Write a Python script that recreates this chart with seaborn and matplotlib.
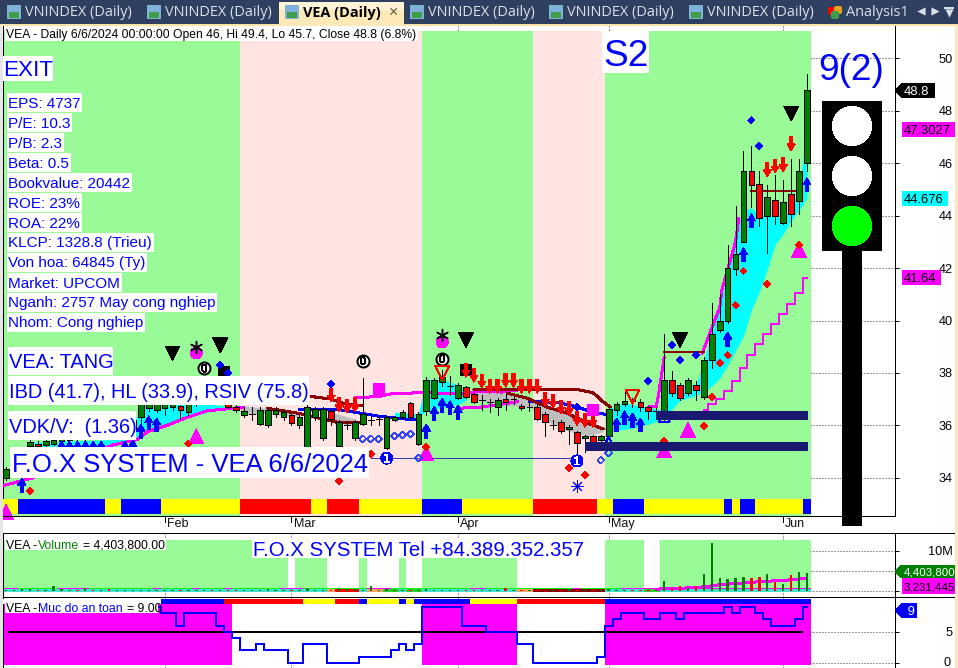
#!/usr/bin/env python3
"""F.O.X SYSTEM daily chart for VEA, redrawn from a screenshot."""
import numpy as np
import matplotlib
matplotlib.use("Agg")
import matplotlib.pyplot as plt
from matplotlib.patches import Rectangle, Circle, Polygon
from matplotlib.path import Path
import seaborn as sns

# ── Data ──────────────────────────────────────────────────────────────────────
opens = [34.0, 34.3, 34.6, 35.2, 35.3, 35.25, 35.3, 35.4, 35.45, 35.55,
         35.5, 35.65, 35.6, 35.7, 35.6, 35.75, 35.85, 36.3, 36.65, 36.6,
         36.65, 36.7, 36.75, 36.5, 36.85, 36.95, 37.0, 36.9, 36.8, 36.7,
         36.4, 36.45, 36.05, 36.0, 36.45, 36.3, 36.4, 36.0, 35.17, 36.3,
         35.5, 36.55, 35.2, 36.0, 35.5, 36.05, 36.2, 36.25, 35.13, 36.2,
         36.3, 36.85, 35.3, 36.55, 37.05, 37.65, 37.5, 37.05, 37.45, 37.2,
         36.95, 36.9, 36.7, 37.0, 37.0, 36.75, 36.7, 36.7, 36.43, 36.0,
         36.13, 35.85, 35.74, 35.5, 35.6, 35.45, 35.6, 36.6, 36.81, 37.0,
         36.89, 36.7, 36.55, 36.3, 37.73, 37.54, 37.23, 37.54, 37.08, 38.5,
         39.64, 40.0, 41.97, 43.0, 45.7, 45.2, 44.0, 44.6, 43.72, 44.83,
         44.55, 46.0]
closes = [34.33, 34.6, 34.9, 35.35, 35.2, 35.4, 35.45, 35.5, 35.6, 35.5,
          35.7, 35.6, 35.75, 35.65, 35.8, 35.9, 36.2, 36.8, 36.8, 36.8,
          36.85, 36.85, 36.6, 36.9, 37.0, 37.05, 36.9, 37.0, 36.7, 36.6,
          36.55, 36.45, 36.6, 36.6, 36.6, 36.5, 36.1, 36.3, 36.7, 36.62,
          36.62, 36.25, 36.13, 36.0, 36.13, 36.43, 36.2, 36.25, 36.3, 36.3,
          36.5, 36.3, 36.43, 37.73, 37.73, 37.85, 37.5, 37.55, 37.1, 36.9,
          36.95, 36.9, 36.95, 36.9, 37.0, 36.65, 36.7, 36.25, 36.13, 36.0,
          35.8, 35.95, 35.32, 35.6, 35.3, 35.6, 36.62, 36.81, 36.93, 36.93,
          36.7, 36.55, 36.55, 37.73, 37.23, 37.04, 37.73, 37.35, 38.5, 39.5,
          40.0, 42.0, 42.54, 45.7, 45.17, 43.9, 44.7, 44.0, 44.52, 44.07,
          45.7, 48.8]
highs = [34.4, 34.7, 35.0, 35.5, 35.4, 35.45, 35.5, 35.6, 35.7, 35.7,
         35.8, 35.8, 35.85, 35.85, 35.9, 36.0, 36.3, 36.9, 36.9, 36.9,
         36.95, 36.95, 36.85, 37.0, 37.1, 37.2, 37.15, 37.1, 36.9, 36.8,
         36.7, 36.7, 36.7, 36.65, 36.7, 36.6, 36.45, 36.4, 36.8, 36.7,
         36.7, 36.65, 36.2, 36.15, 36.2, 37.8, 36.35, 36.35, 36.35, 36.35,
         36.6, 36.9, 36.5, 37.85, 37.8, 38.1, 37.9, 37.6, 37.5, 37.25,
         37.15, 37.0, 37.05, 37.2, 37.1, 36.8, 36.9, 36.8, 36.5, 36.2,
         36.2, 36.0, 35.8, 35.65, 35.65, 35.65, 36.7, 36.9, 37.3, 37.05,
         37.0, 36.75, 36.7, 39.48, 38.07, 37.6, 37.8, 37.7, 38.6, 40.67,
         41.0, 42.88, 44.37, 46.47, 46.66, 45.7, 45.17, 45.55, 45.36, 46.16,
         46.16, 49.4]
lows = [33.9, 34.2, 34.5, 35.1, 35.15, 35.2, 35.25, 35.35, 35.4, 35.4,
        35.45, 35.5, 35.5, 35.6, 35.55, 35.7, 35.7, 35.9, 36.55, 36.5,
        36.4, 36.6, 36.25, 36.4, 36.75, 36.85, 36.8, 36.8, 36.65, 36.5,
        36.3, 36.2, 36.0, 35.95, 36.3, 36.2, 36.0, 35.9, 35.1, 36.2,
        35.45, 36.0, 35.15, 35.85, 35.45, 36.0, 36.0, 36.0, 35.1, 36.15,
        36.25, 36.25, 35.25, 36.4, 37.0, 37.5, 37.15, 37.0, 37.05, 36.85,
        36.6, 36.5, 36.4, 36.6, 36.8, 36.6, 36.55, 36.2, 35.6, 35.85,
        35.7, 35.3, 34.9, 35.0, 35.2, 35.3, 35.55, 36.4, 36.75, 36.7,
        36.55, 36.24, 36.3, 36.2, 37.12, 36.95, 37.15, 36.95, 37.0, 38.2,
        39.55, 39.9, 41.74, 43.0, 44.33, 43.6, 42.58, 43.7, 43.7, 43.6,
        44.05, 45.7]
volumes = [.3, .2, .4, .4, .3, .3, 1.2, .4, .3, .3,
           .8, .3, .3, .5, .3, .3, .3, .3, .3, .2,
           .3, .2, .2, .2, .3, .2, .2, .3, .2, .2,
           .2, .2, .2, .4, .2, .3, .2, .3, .6, .3,
           .3, .3, .8, .4, .5, .3, 1.25, .3, .4, .3,
           .2, .2, .3, .4, .3, .3, .3, .2, .2, .2,
           .2, .3, .2, .7, .2, .3, .2, .2, .2, .2,
           .2, .4, .2, .3, .2, .3, .4, .3, .2, .3,
           .3, .3, .2, 2.5, .7, 1.25, .7, 1.25, 4.3, 11.9,
           3.2, 2.9, 3.3, 3.5, 3.2, 3.5, 4.2, 2.25, 1.7, 3.9,
           4.75, 4.4]
safety = [9, 9, 9, 9, 9, 9, 9, 9, 9, 9, 9, 9, 9, 9, 9, 9, 9, 9, 9, 9,
          8, 8, 6, 8, 8, 8, 8, 6, 5, 4, 2, 2, 3, 2, 2, 2, 0, 0, 3, 3,
          3, 0, 0, 0, 0, 1, 1, 1, 1, 2, 3, 2, 3, 9, 9, 9, 9, 9, 6, 6,
          6, 5, 5, 5, 5, 3, 3, 0, 0, 0, 0, 0, 0, 0, 0, 1, 6, 7, 8, 8,
          8, 7, 7, 8, 8, 7, 8, 8, 8, 8, 8, 9, 8, 9, 9, 8, 7, 6, 6, 6,
          7, 9]

month_ticks = [20, 36, 57, 76, 98]
month_labels = ["Feb", "Mar", "Apr", "May", "Jun"]
price_ticks = [34, 36, 38, 40, 42, 44, 46, 48, 50]

# regimes as (colour, number of bars)
band_colors = ["palegreen", "mistyrose", "palegreen", "mistyrose", "palegreen"]
band_counts = [30, 23, 14, 9, 26]
strip_colors = ["yellow", "blue", "yellow", "blue", "yellow", "red", "yellow", "red", "yellow",
                "blue", "yellow", "red", "yellow", "blue", "yellow", "blue", "yellow", "blue",
                "yellow", "blue"]
strip_counts = [2, 11, 2, 5, 10, 9, 2, 4, 8, 5, 9, 8, 2, 4, 10, 1, 1, 2, 6, 1]
vol_band_colors = ["palegreen", "white", "palegreen", "white", "palegreen", "white", "palegreen",
                   "white", "palegreen", "white", "palegreen", "white", "palegreen"]
vol_band_counts = [36, 1, 4, 4, 1, 4, 1, 2, 12, 11, 5, 2, 19]
vol_base_colors = ["turquoise", "sandybrown", "red", "turquoise", "sandybrown", "limegreen",
                   "turquoise", "limegreen", "turquoise", "sandybrown", "darkred", "turquoise",
                   "limegreen", "turquoise"]
vol_base_counts = [41, 1, 3, 1, 2, 2, 1, 2, 12, 2, 9, 5, 2, 19]
vol_top_colors = ["magenta", "lime", "magenta", "lime", "magenta", "lime", "magenta", "lime",
                  "magenta", "lime", "magenta", "lime", "magenta", "lime", "magenta", "lime",
                  "magenta", "lime", "magenta"]
vol_top_counts = [2, 5, 4, 8, 1, 4, 1, 3, 1, 6, 3, 8, 3, 10, 2, 11, 1, 5, 24]
safe_band_colors = ["magenta", "white", "magenta", "white", "magenta"]
safe_band_counts = [29, 24, 12, 11, 26]
safe_strip_colors = ["white", "blue", "red", "yellow", "red", "blue", "yellow", "blue", "yellow",
                     "blue", "yellow", "red", "blue"]
safe_strip_counts = [20, 8, 10, 4, 3, 1, 4, 1, 1, 7, 6, 11, 26]

# indicator lines, one pair of lists per unbroken piece
fast_x1 = [-0.3, 3.4, 13.5, 16.5, 17.8, 20.3, 22.8, 25.3, 28.6, 30]
fast_y1 = [33.7, 34.0, 35.25, 35.45, 35.75, 36.0, 36.3, 36.55, 36.65, 36.7]
fast_x2 = [44, 47, 48.5, 52.5, 57.6, 59.8, 62.5, 64.5]
fast_y2 = [37.05, 37.1, 37.2, 37.25, 37.2, 37.3, 37.27, 37.35]
fast_x3 = [57, 60, 64.5]
fast_y3 = [36.65, 36.7, 36.9]
fast_x4 = [81, 82, 82.3, 83]
fast_y4 = [36.7, 36.7, 37.2, 38.6]
fast_x5 = [87.8, 88.8, 90, 90.3, 92, 92.4]
fast_y5 = [38.75, 39.55, 40.5, 41.2, 43.0, 43.9]
stair_x = [88, 89, 90, 91, 92, 93, 94, 95, 96, 97, 98, 99, 100, 101]
stair_y = [36.58, 36.81, 37.01, 37.32, 37.7, 38.19, 38.68, 39.1, 39.48, 39.87, 40.25, 40.63, 41.05, 41.64]
blue_x1 = [37, 42, 45, 47, 50, 52]
blue_y1 = [36.6, 36.6, 36.45, 36.35, 36.25, 36.2]
blue_x2 = [66, 70, 72, 74, 76]
blue_y2 = [36.92, 36.85, 36.7, 36.5, 36.4]
brown_x1 = [38.5, 41, 43, 45]
brown_y1 = [37.1, 37.0, 36.8, 36.75]
brown_x2 = [33, 37, 42, 45]
brown_y2 = [36.65, 36.45, 36.1, 36.1]
brown_x3 = [59, 72, 74, 75.3, 76.2]
brown_y3 = [37.37, 37.37, 37.25, 36.9, 36.7]
brown_x4 = [63.2, 65.7, 68.2, 70.7, 73.3, 75.3]
brown_y4 = [37.23, 37.04, 36.7, 36.47, 36.09, 35.86]
brown_x5 = [83, 88]
brown_y5 = [38.8, 38.8]
brown_x6 = [94, 99.8]
brown_y6 = [44.95, 44.95]

# coloured clouds: x, upper edge, lower edge
cyan_x1 = [3, 13, 16, 17, 20, 23, 26, 28.5]
cyan_hi1 = [35.35, 35.45, 35.9, 36.8, 36.85, 36.85, 36.8, 36.7]
cyan_lo1 = [35.2, 35.2, 35.4, 35.75, 36.05, 36.3, 36.55, 36.65]
cyan_x2 = [49, 52, 53, 55, 57, 58]
cyan_hi2 = [36.5, 36.45, 37.75, 37.75, 37.55, 37.3]
cyan_lo2 = [36.3, 36.3, 36.55, 36.68, 36.8, 36.95]
cyan_x3 = [76, 78, 80, 82.5, 83, 85, 87, 88, 89, 90, 91, 92, 93, 94, 95, 96, 97, 98, 99, 100, 101]
cyan_hi3 = [36.65, 36.85, 36.75, 36.6, 37.7, 37.5, 37.5, 38.5, 39.5, 40.5, 42.0, 43.5, 44.2, 44.3,
            44.0, 44.0, 43.95, 44.0, 44.3, 45.0, 47.3]
cyan_lo3 = [35.75, 35.85, 35.95, 36.2, 36.3, 36.95, 37.15, 37.25, 37.5, 37.8, 38.3, 38.85, 39.4,
            40.4, 41.1, 41.95, 42.9, 43.3, 43.8, 44.2, 44.68]
grey_x1 = [29.5, 33, 37]
grey_hi1 = [36.75, 36.65, 36.45]
grey_lo1 = [36.45, 36.45, 36.3]
grey_x2 = [41, 44]
grey_hi2 = [36.5, 36.25]
grey_lo2 = [36.1, 36.0]
grey_x3 = [59, 63, 66, 68.2, 70.7, 73.3, 75.3]
grey_hi3 = [37.35, 37.2, 37.05, 36.7, 36.47, 36.09, 35.86]
grey_lo3 = [37.0, 36.75, 36.7, 36.15, 35.8, 35.6, 35.75]

vol_ma_x = [82, 85, 88.3, 90, 95, 98.8, 101]
vol_ma_y = [0.4, 0.6, 1.0, 1.5, 2.25, 2.7, 3.1]

# signal markers
up_x = [2, 7, 8, 9, 10, 11, 12, 15, 16, 17, 18, 19, 53, 54, 55, 56, 57, 77, 78, 79, 80, 91, 93, 94, 101]
up_y = [33.99, 35.4, 35.4, 35.4, 35.4, 35.4, 35.4, 35.4, 35.45, 36.05, 36.36, 36.28, 36.05, 36.73, 37.04,
        36.93, 36.77, 36.28, 36.55, 36.47, 36.28, 39.56, 42.77, 44.07, 45.44]
down_x = [41, 42, 43, 44, 58, 59, 60, 61, 62, 63, 64, 65, 66, 67, 68, 69, 70, 71, 72, 73, 74, 96, 97, 98, 99]
down_y = [36.89, 36.51, 36.47, 36.51, 37.84, 37.65, 37.42, 37.23, 37.23, 37.46, 37.46, 37.23, 37.23, 37.23,
          36.73, 36.66, 36.43, 36.36, 36.0, 35.93, 35.93, 45.48, 45.63, 45.67, 46.47]
sell_x = [21, 27, 58, 85, 99]
sell_y = [38.74, 39.05, 39.26, 39.24, 47.9]
buy_x = [0, 24, 53, 83, 86, 100]
buy_y = [32.69, 35.59, 34.94, 35.05, 35.82, 42.69]
ball_x = [24, 55]
ball_y = [38.76, 39.18]
star_x = [24, 55]
star_y = [38.99, 39.45]
zero_x = [25, 45, 55]
zero_y = [38.18, 38.47, 38.54]
one_x = [48, 72]
one_y = [34.75, 34.64]
hollow_red_x = [55, 79]
hollow_red_y = [38.0, 37.1]
hollow_dia_x = [45, 46, 47, 49, 50, 51, 52, 75, 76]
hollow_dia_y = [35.48, 35.48, 35.48, 35.6, 35.63, 35.67, 34.75, 34.67, 34.95]
hollow_tri_x = [76, 83]
hollow_tri_y = [35.36, 36.35]
blue_dia_x = [27, 28, 41, 72, 81, 84, 85, 87, 94, 95]
blue_dia_y = [38.3, 38.0, 37.58, 36.7, 37.69, 39.06, 38.49, 38.68, 47.65, 46.66]
red_dia_x = [3, 23, 42, 46, 53, 71, 73, 83, 88, 89, 90, 91, 92, 93, 96, 100]
red_dia_y = [33.49, 35.29, 33.87, 34.9, 35.17, 34.37, 34.1, 35.4, 35.97, 37.08, 38.38, 38.68, 40.59, 41.89,
             41.39, 42.88]
square_x = [47, 74]
square_y = [37.39, 36.58]
black_sq_x = [27.5, 58]
black_sq_y = [38.03, 38.11]
flake_x = [72]
flake_y = [33.68]

support_y = [36.4, 35.2]
support_x0 = [82, 73]
support_x1 = [101, 101]

info_lines = ["EPS: 4737", "P/E: 10.3", "P/B: 2.3", "Beta: 0.5", "Bookvalue: 20442", "ROE: 23%", "ROA: 22%",
              "KLCP: 1328.8 (Trieu)", "Von hoa: 64845 (Ty)", "Market: UPCOM", "Nganh: 2757 May cong nghiep",
              "Nhom: Cong nghiep"]
tab_labels = ["VNINDEX (Daily)", "VNINDEX (Daily)", "VEA (Daily)", "VNINDEX (Daily)", "VNINDEX (Daily)",
              "VNINDEX (Daily)"]

# ── Helpers ───────────────────────────────────────────────────────────────────
sns.set_style("white")
plt.rcParams["font.family"] = ["Liberation Sans", "DejaVu Sans"]
plt.rcParams["patch.antialiased"] = False
plt.rcParams["lines.antialiased"] = False

W, H = 958, 668
DPI = 100
PX = 72 / DPI  # one pixel in points
N = len(opens)
assert all(len(a) == N for a in (closes, highs, lows, volumes, safety))

arrow_up = Path([(0, 0), (.29, -.5), (.12, -.5), (.12, -1), (-.12, -1), (-.12, -.5), (-.29, -.5), (0, 0)], closed=True)
arrow_down = Path([(0, 0), (.29, .5), (.12, .5), (.12, 1), (-.12, 1), (-.12, .5), (-.29, .5), (0, 0)], closed=True)


def px_size(px):
    return (px * PX) ** 2


def line(ax, xs, ys, color, width=2, **kw):
    sns.lineplot(x=xs, y=ys, ax=ax, color=color, lw=width * PX, sort=False, estimator=None,
                 legend=False, zorder=3, **kw)


def cloud(ax, xs, hi, lo, color):
    ax.fill_between(xs, lo, hi, color=color, lw=0, zorder=2, antialiased=False)


def points(ax, xs, ys, marker, size, color, edge="none", width=0, z=5):
    sns.scatterplot(x=xs, y=ys, ax=ax, marker=marker, s=px_size(size), color=color, edgecolor=edge,
                    linewidth=width, zorder=z, legend=False, clip_on=False, antialiased=False)


def hollow(ax, xs, ys, marker, size, color, width=1):
    ax.scatter(xs, ys, marker=marker, s=px_size(size), facecolors="none", edgecolors=color,
               linewidths=width * PX, zorder=5)


def runs(ax, colors, counts, ymin, ymax, z=1):
    start = -0.5
    for c, n in zip(colors, counts):
        ax.axvspan(start, start + n, ymin=ymin, ymax=ymax, color=c, lw=0, zorder=z)
        start += n


def strip(ax, colors, counts, bottom, top, z=3):
    cols = [c for c, n in zip(colors, counts) for _ in range(n)]
    ax.bar(range(N), top - bottom, bottom=bottom, width=1.0, color=cols, lw=0, zorder=z)


def panel(top, bottom, ylim, ticks, ticklabels):
    ax = fig.add_axes([3 / W, 1 - bottom / H, (895 - 3) / W, (bottom - top) / H])
    ax.set_xlim((3 - 6) / 7.93, (895 - 6) / 7.93)
    ax.set_ylim(*ylim)
    ax.patch.set_alpha(0)
    ax.set_xticks(month_ticks)
    ax.set_xticklabels([])
    ax.set_yticks(ticks)
    ax.set_yticklabels(ticklabels, fontsize=9.2, color="black", ha="right", va="center_baseline")
    ax.yaxis.tick_right()
    ax.tick_params(axis="y", right=True, left=False, length=3 * PX * 1.4, width=1 * PX, pad=38.5, color="black")
    ax.tick_params(axis="x", bottom=False)
    ax.grid(True, ls=":", color="#999999", lw=0.8)
    ax.set_axisbelow(True)
    for s in ("top", "bottom"):
        ax.spines[s].set_visible(False)
    for s in ("left", "right"):
        ax.spines[s].set_color("black")
        ax.spines[s].set_linewidth(1 * PX)
    return ax


# ── Figure and panels ─────────────────────────────────────────────────────────
fig = plt.figure(figsize=(W / DPI, H / DPI), dpi=DPI, facecolor="white")

ax = panel(26, 516, (32.54, 51.24), price_ticks, [str(t) for t in price_ticks])
axv = panel(533, 597, (-1.57, 14.43), [0, 5, 10], ["", "", "10M"])
axs = panel(597, 668, (-0.85, 10.6), [0, 5], ["", "5"])

# ── Price panel ───────────────────────────────────────────────────────────────
runs(ax, band_colors, band_counts, 0, (516 - 31) / 490)
strip(ax, strip_colors, strip_counts, 32.6, 33.19)

cloud(ax, grey_x1, grey_hi1, grey_lo1, "#bebebe")
cloud(ax, grey_x2, grey_hi2, grey_lo2, "#bebebe")
cloud(ax, grey_x3, grey_hi3, grey_lo3, "#bebebe")
cloud(ax, cyan_x1, cyan_hi1, cyan_lo1, "cyan")
cloud(ax, cyan_x2, cyan_hi2, cyan_lo2, "cyan")
cloud(ax, cyan_x3, cyan_hi3, cyan_lo3, "cyan")

for xs, ys in [(fast_x1, fast_y1), (fast_x2, fast_y2), (fast_x3, fast_y3), (fast_x4, fast_y4), (fast_x5, fast_y5)]:
    line(ax, xs, ys, "magenta")
line(ax, stair_x, stair_y, "magenta", drawstyle="steps-mid")
for xs, ys in [(blue_x1, blue_y1), (blue_x2, blue_y2)]:
    line(ax, xs, ys, "blue")
for xs, ys in [(brown_x1, brown_y1), (brown_x2, brown_y2), (brown_x3, brown_y3), (brown_x4, brown_y4),
               (brown_x5, brown_y5), (brown_x6, brown_y6)]:
    line(ax, xs, ys, "darkred")
ax.hlines(34.75, 46, 72, color="#3a3ab0", lw=1 * PX, zorder=3)

# candles
xs = np.arange(N)
o, c = np.array(opens), np.array(closes)
body_colors = ["green" if b >= a else "red" for a, b in zip(opens, closes)]
ax.vlines(xs, lows, highs, color="black", lw=1 * PX, zorder=4)
ax.bar(xs, np.abs(c - o), bottom=np.minimum(o, c), width=0.72, color=body_colors,
       edgecolor="black", lw=1 * PX, zorder=4.1)

# markers
points(ax, up_x, up_y, arrow_up, 28, "blue")
points(ax, down_x, down_y, arrow_down, 28, "red")
points(ax, sell_x, sell_y, "v", 15, "black")
points(ax, buy_x, buy_y, "^", 15, "magenta", z=4.5)
points(ax, square_x, square_y, "s", 12, "magenta")
points(ax, black_sq_x, black_sq_y, "s", 12, "black", z=4.8)
points(ax, ball_x, ball_y, "o", 12, "magenta")
points(ax, star_x, star_y, (6, 2, 0), 12, "black", edge="black", width=1.5 * PX)
points(ax, zero_x, zero_y, "o", 12, "white", edge="black", width=2 * PX)
points(ax, zero_x, zero_y, "$0$", 8, "black")
points(ax, one_x, one_y, "o", 12, "blue")
points(ax, one_x, one_y, "$1$", 8, "white")
points(ax, blue_dia_x, blue_dia_y, "D", 5, "blue")
points(ax, red_dia_x, red_dia_y, "D", 5, "red")
points(ax, flake_x, flake_y, (8, 2, 0), 12, "blue", edge="blue", width=1 * PX)
hollow(ax, hollow_red_x, hollow_red_y, "v", 14, "red")
hollow(ax, hollow_dia_x, hollow_dia_y, "D", 5, "#3344ff", width=0.5)
hollow(ax, hollow_tri_x, hollow_tri_y, "^", 11, "blue")
for y, x0, x1 in zip(support_y, support_x0, support_x1):
    ax.hlines(y, x0, x1, color="midnightblue", lw=9 * PX, zorder=6)

for t, m in zip(month_ticks, month_labels):
    ax.plot([t, t], [32.54, 32.33], color="black", lw=1 * PX, clip_on=False)
    ax.annotate(m, (t, 0), xycoords=("data", "axes fraction"), xytext=(1.5, -1.5),
                textcoords="offset points", va="top", ha="left", fontsize=9, color="#111111")

# ── Volume panel ──────────────────────────────────────────────────────────────
runs(axv, vol_band_colors, vol_band_counts, (597 - 590) / 64, (597 - 540) / 64)
strip(axv, vol_base_colors, vol_base_counts, -0.35, 0.42, z=2)
strip(axv, vol_top_colors, vol_top_counts, 0.42, 0.7, z=2)
axv.bar(xs, volumes, width=0.3, color=body_colors, lw=0, zorder=4)
line(axv, vol_ma_x, vol_ma_y, "magenta")

# ── Safety panel ──────────────────────────────────────────────────────────────
runs(axs, safe_band_colors, safe_band_counts, (668 - 665) / 71, (668 - 604) / 71)
strip(axs, safe_strip_colors, safe_strip_counts, 9.4, 10.2)
axs.hlines(5, 0.3, 100.5, color="black", lw=2 * PX, zorder=3)
line(axs, list(range(N)), safety, "blue", drawstyle="steps-mid")

# ── Pixel overlay: labels, traffic light, tags, tab bar ───────────────────────
ov = fig.add_axes([0, 0, 1, 1], zorder=20)
ov.set_xlim(0, W)
ov.set_ylim(H, 0)
ov.axis("off")


def box(x0, y0, x1, y1, color="white", z=1):
    ov.add_patch(Rectangle((x0, y0), x1 - x0, y1 - y0, facecolor=color, edgecolor="none", zorder=z))


def label(x0, y0, x1, y1, text, size, tx=None, color="blue"):
    box(x0, y0, x1, y1)
    ov.text(x0 + 1 if tx is None else tx, (y0 + y1) / 2, text, fontsize=size * PX, color=color,
            va="center_baseline", ha="left", zorder=2)


label(5, 26, 418, 41, "VEA - Daily 6/6/2024 00:00:00 Open 46, Hi 49.4, Lo 45.7, Close 48.8 (6.8%)",
      12.1, color="black")
label(2, 56, 53, 81, "EXIT", 22.5, tx=3)
label_y = 102
for line_txt in info_lines:
    w = ov.text(8, label_y, line_txt, fontsize=15.3 * PX, color="blue", va="center_baseline", zorder=2)
    bb = w.get_window_extent(fig.canvas.get_renderer())
    box(7, label_y - 9.5, bb.x1 + 2, label_y + 9.5)
    label_y += 20
label(8, 347, 113, 375, "VEA: TANG", 20)
label(8, 376, 309, 405, "IBD (41.7), HL (33.9), RSIV (75.8)", 20)
label(8, 411, 136, 440, "VDK/V:  (1.36)", 20)
label(10, 447, 369, 478, "F.O.X SYSTEM - VEA 6/6/2024", 25.6, tx=12)
label(602, 31, 649, 73, "S2", 37, tx=603)
ov.text(818, 67, "9(2)", fontsize=37 * PX, color="blue", va="center_baseline", ha="left")
label(252, 538, 584, 558, "F.O.X SYSTEM Tel +84.389.352.357", 20.4, tx=253)
ov.text(951, 661, "0", fontsize=9.2, color="black", ha="right", va="center_baseline")

box(5, 539, 166, 550)
ov.text(6, 544.5, "VEA - ", fontsize=12.3 * PX, color="black", va="center_baseline", zorder=2)
ov.text(38, 544.5, "Volume", fontsize=12.3 * PX, color="green", va="center_baseline", zorder=2)
ov.text(83, 544.5, "= 4,403,800.00", fontsize=12.3 * PX, color="black", va="center_baseline", zorder=2)
box(5, 601, 158, 613)
ov.text(6, 607, "VEA - ", fontsize=12.3 * PX, color="black", va="center_baseline", zorder=2)
ov.text(38, 607, "Muc do an toan", fontsize=12.3 * PX, color="blue", va="center_baseline", zorder=2)
ov.text(127, 607, "= 9.00", fontsize=12.3 * PX, color="black", va="center_baseline", zorder=2)

# traffic light
box(842, 251, 862, 526, "black")
box(822, 101, 882, 251, "black")
for cy, col in zip([126, 176, 226], ["white", "white", "lime"]):
    ov.add_patch(Circle((852, cy), 19.5, facecolor=col, edgecolor="none", zorder=2))


def tag(x0, y0, x1, y1, text, bg, fg, size=13, pointed=False):
    if pointed:
        ov.add_patch(Polygon([(895, (y0 + y1) / 2), (x0, y0), (x1, y0), (x1, y1), (x0, y1)],
                             facecolor=bg, edgecolor="none", zorder=3))
    else:
        box(x0, y0, x1, y1, bg, 3)
    ov.text(x0 + 2, (y0 + y1) / 2, text, fontsize=size * PX, color=fg, va="center_baseline", zorder=4)


tag(902, 83, 935, 98, "48.8", "black", "white", pointed=True)
tag(902, 122, 955, 137, "47.3027", "magenta", "black")
tag(902, 191, 948, 206, "44.676", "cyan", "black")
tag(902, 270, 941, 285, "41.64", "magenta", "black")
tag(902, 565, 955, 578, "4,403,800", "green", "white", size=11.5, pointed=True)
tag(902, 578, 955, 594, "3,231,445", "magenta", "black", size=11.5)
tag(902, 603, 917, 618, " 9", "blue", "white", pointed=True)

# panel rules and window frame
ov.plot([3, 895], [516, 516], color="black", lw=1 * PX)
ov.plot([3, 955], [533, 533], color="black", lw=1 * PX)
ov.plot([3, 955], [597, 597], color="black", lw=1 * PX)
box(955, 24, 958, 668, "#fbe8c0", 5)
box(0, 24, 3, 668, "#e6e6e6", 5)

# tab bar
box(0, 0, W, 24, "#2f3f5f", 5)
box(0, 24, W, 26, "#fde3a7", 5)
box(279, 2, 404, 26, "#fde9b8", 5)
box(279, 2, 404, 10, "#fff4d8", 5)
tab_text_x = [25, 165, 303, 428, 567, 707]
for tx, t in zip(tab_text_x, tab_labels):
    active = t.startswith("VEA")
    ov.text(tx, 13, t, fontsize=14.5 * PX, color="black" if active else "#d9e0ea",
            fontweight="bold" if active else "normal", family="Open Sans", va="center", zorder=6)
    box(tx - 18, 5, tx - 4, 19, "#7fb2d9", 6)
    box(tx - 16, 12, tx - 6, 18, "#3f9e4a", 6)
ov.text(394, 12, "×", fontsize=16 * PX, color="#6a5a3a", ha="center", va="center", zorder=6)
ov.text(846, 13, "Analysis1", fontsize=14.5 * PX, color="#d9e0ea", family="Open Sans", va="center", zorder=6)
ov.scatter([832, 838, 835], [11, 10, 15], s=[28, 28, 28], c=["red", "#e8a020", "#3f9e4a"], zorder=6, linewidths=0)
ov.scatter([921], [11], marker="<", s=35, color="#d9e0ea", zorder=6, linewidths=0)
ov.scatter([935], [11], marker=">", s=35, color="#d9e0ea", zorder=6, linewidths=0)
ov.scatter([949], [13], marker="v", s=35, color="#d9e0ea", zorder=6, linewidths=0)
box(944, 7, 954, 9, "#d9e0ea", 6)

fig.savefig("out.png", dpi=DPI)
